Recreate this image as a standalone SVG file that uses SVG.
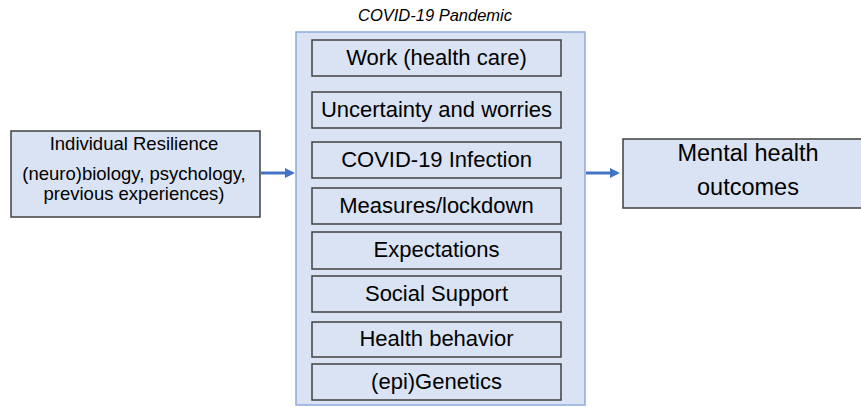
<svg xmlns="http://www.w3.org/2000/svg" width="861" height="407" viewBox="0 0 861 407">
<style>
.bg{fill:#ffffff}
.box{fill:#dae3f3;stroke:#404040;stroke-width:1.5}
.outer{fill:#dae3f3;stroke:#8faadc;stroke-width:1.5}
.t{font-family:"Liberation Sans",Arial,sans-serif;font-size:22px;fill:#000;text-anchor:middle}
.tr{font-family:"Liberation Sans",Arial,sans-serif;font-size:23.5px;fill:#000;text-anchor:middle}
.ts{font-family:"Liberation Sans",Arial,sans-serif;font-size:18.5px;fill:#000;text-anchor:middle}
.title{font-family:"Liberation Sans",Arial,sans-serif;font-size:16.5px;font-style:italic;fill:#000;text-anchor:middle}
.conn{stroke:#4472c4;stroke-width:3;fill:none}
</style>
<defs>
<marker id="ah" markerWidth="10" markerHeight="10" refX="0" refY="5" orient="auto" markerUnits="userSpaceOnUse" viewBox="0 0 10 10">
<path d="M0,0 L10,5 L0,10 Z" fill="#4472c4"/>
</marker>
</defs>
<rect class="bg" x="0" y="0" width="861" height="407"/>
<text class="title" x="435" y="21">COVID-19 Pandemic</text>
<g id="pandemic">
<rect class="outer" x="296" y="32" width="289" height="373"/>
</g>
<g id="work"><rect class="box" x="312" y="40" width="249" height="36"/><text class="t" x="436.5" y="65">Work (health care)</text></g>
<g id="uncertainty"><rect class="box" x="312" y="92" width="249" height="36"/><text class="t" x="436.5" y="117">Uncertainty and worries</text></g>
<g id="infection"><rect class="box" x="312" y="142" width="249" height="36"/><text class="t" x="436.5" y="167">COVID-19 Infection</text></g>
<g id="measures"><rect class="box" x="312" y="188" width="249" height="36"/><text class="t" x="436.5" y="213">Measures/lockdown</text></g>
<g id="expectations"><rect class="box" x="312" y="232" width="249" height="37"/><text class="t" x="436.5" y="257">Expectations</text></g>
<g id="social"><rect class="box" x="312" y="276" width="249" height="36"/><text class="t" x="436.5" y="301">Social Support</text></g>
<g id="health"><rect class="box" x="312" y="322" width="249" height="35"/><text class="t" x="436.5" y="346">Health behavior</text></g>
<g id="genetics"><rect class="box" x="312" y="364" width="249" height="36"/><text class="t" x="436.5" y="389">(epi)Genetics</text></g>
<g id="resilience">
<rect class="box" x="11" y="131" width="249" height="86"/>
<text class="ts" x="134" y="150">Individual Resilience</text>
<text class="ts" x="134" y="180">(neuro)biology, psychology,</text>
<text class="ts" x="134" y="200">previous experiences)</text>
</g>
<g id="outcomes">
<rect class="box" x="623" y="139" width="240" height="69"/>
<text class="tr" x="748" y="161">Mental health</text>
<text class="tr" x="748" y="195">outcomes</text>
</g>
<g id="connectors">
<line class="conn" x1="261" y1="173" x2="285" y2="173" marker-end="url(#ah)"/>
<line class="conn" x1="586" y1="173" x2="610" y2="173" marker-end="url(#ah)"/>
</g>
</svg>
